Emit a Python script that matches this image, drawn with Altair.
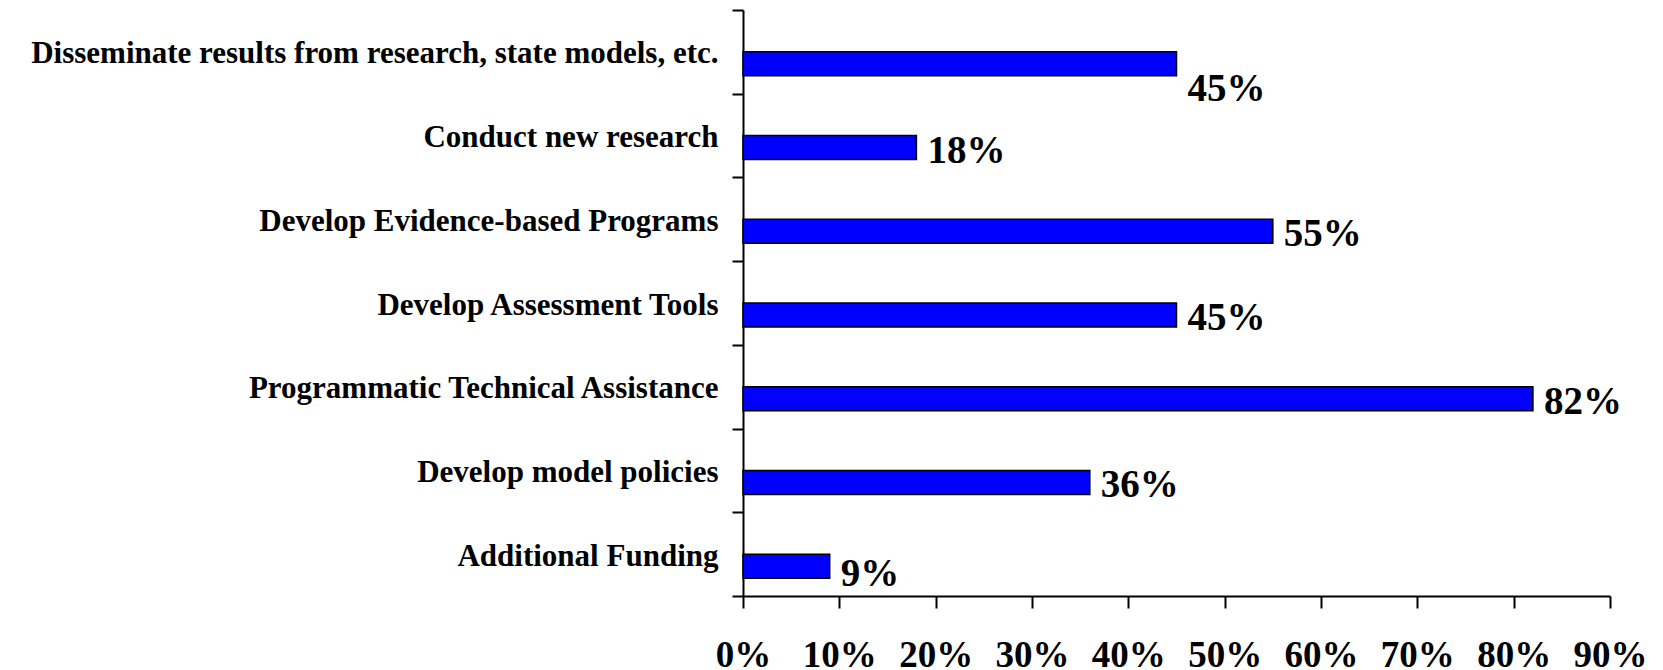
import altair as alt
import pandas as pd

categories = [
    "Disseminate results from research, state models, etc.",
    "Conduct new research",
    "Develop Evidence-based Programs",
    "Develop Assessment Tools",
    "Programmatic Technical Assistance",
    "Develop model policies",
    "Additional Funding",
]
values = [45, 18, 55, 45, 82, 36, 9]
x_ticks = [0, 10, 20, 30, 40, 50, 60, 70, 80, 90]

df = pd.DataFrame({"category": categories, "value": values})
df["label"] = [f"{v}%" for v in values]

FONT = "Liberation Serif"

base = alt.Chart(df).encode(
    y=alt.Y(
        "category:N",
        sort=categories,
        title=None,
        scale=alt.Scale(paddingInner=0, paddingOuter=0),
        axis=alt.Axis(
            tickBand="extent",
            labelFont=FONT,
            labelFontSize=31,
            labelFontWeight="bold",
            labelColor="black",
            labelBaseline="alphabetic",
            labelOffset=11,
            labelPadding=14,
            labelLimit=900,
            tickSize=11,
            tickColor="black",
            tickWidth=2,
            domainColor="black",
            domainWidth=2,
            grid=False,
        ),
    ),
    x=alt.X(
        "value:Q",
        title=None,
        scale=alt.Scale(domain=[0, 90], nice=False),
        axis=alt.Axis(
            values=x_ticks,
            labelExpr="datum.value + '%'",
            labelFont=FONT,
            labelFontSize=37,
            labelFontWeight="bold",
            labelColor="black",
            labelBaseline="alphabetic",
            labelPadding=58,
            labelOverlap=False,
            labelFlush=False,
            tickSize=12,
            tickColor="black",
            tickWidth=2,
            domainColor="black",
            domainWidth=2,
            grid=False,
        ),
    ),
)

bars = base.mark_bar(
    height=24, yOffset=12, color="#0000FF", stroke="black", strokeWidth=1.5
)


def value_text(dy):
    return base.mark_text(
        align="left",
        baseline="alphabetic",
        dx=11,
        dy=dy,
        yOffset=12,
        font=FONT,
        fontSize=39,
        fontWeight="bold",
        color="black",
    ).encode(text="label:N")


first_cat = categories[0]
last_cat = categories[-1]

text_mid = value_text(15).transform_filter(
    f"datum.category != '{first_cat}' && datum.category != '{last_cat}'"
)
text_first = value_text(37).transform_filter(f"datum.category == '{first_cat}'")
text_last = value_text(20).transform_filter(f"datum.category == '{last_cat}'")

chart = (
    alt.layer(bars, text_mid, text_first, text_last)
    .properties(
        width=867,
        height=586,
        autosize=alt.AutoSizeParams(type="none"),
        padding={"left": 735, "top": 2, "right": 42, "bottom": 74},
        background="white",
    )
    .configure_view(stroke=None)
)

chart.save("out.html", embed_options={"renderer": "svg", "actions": False})
